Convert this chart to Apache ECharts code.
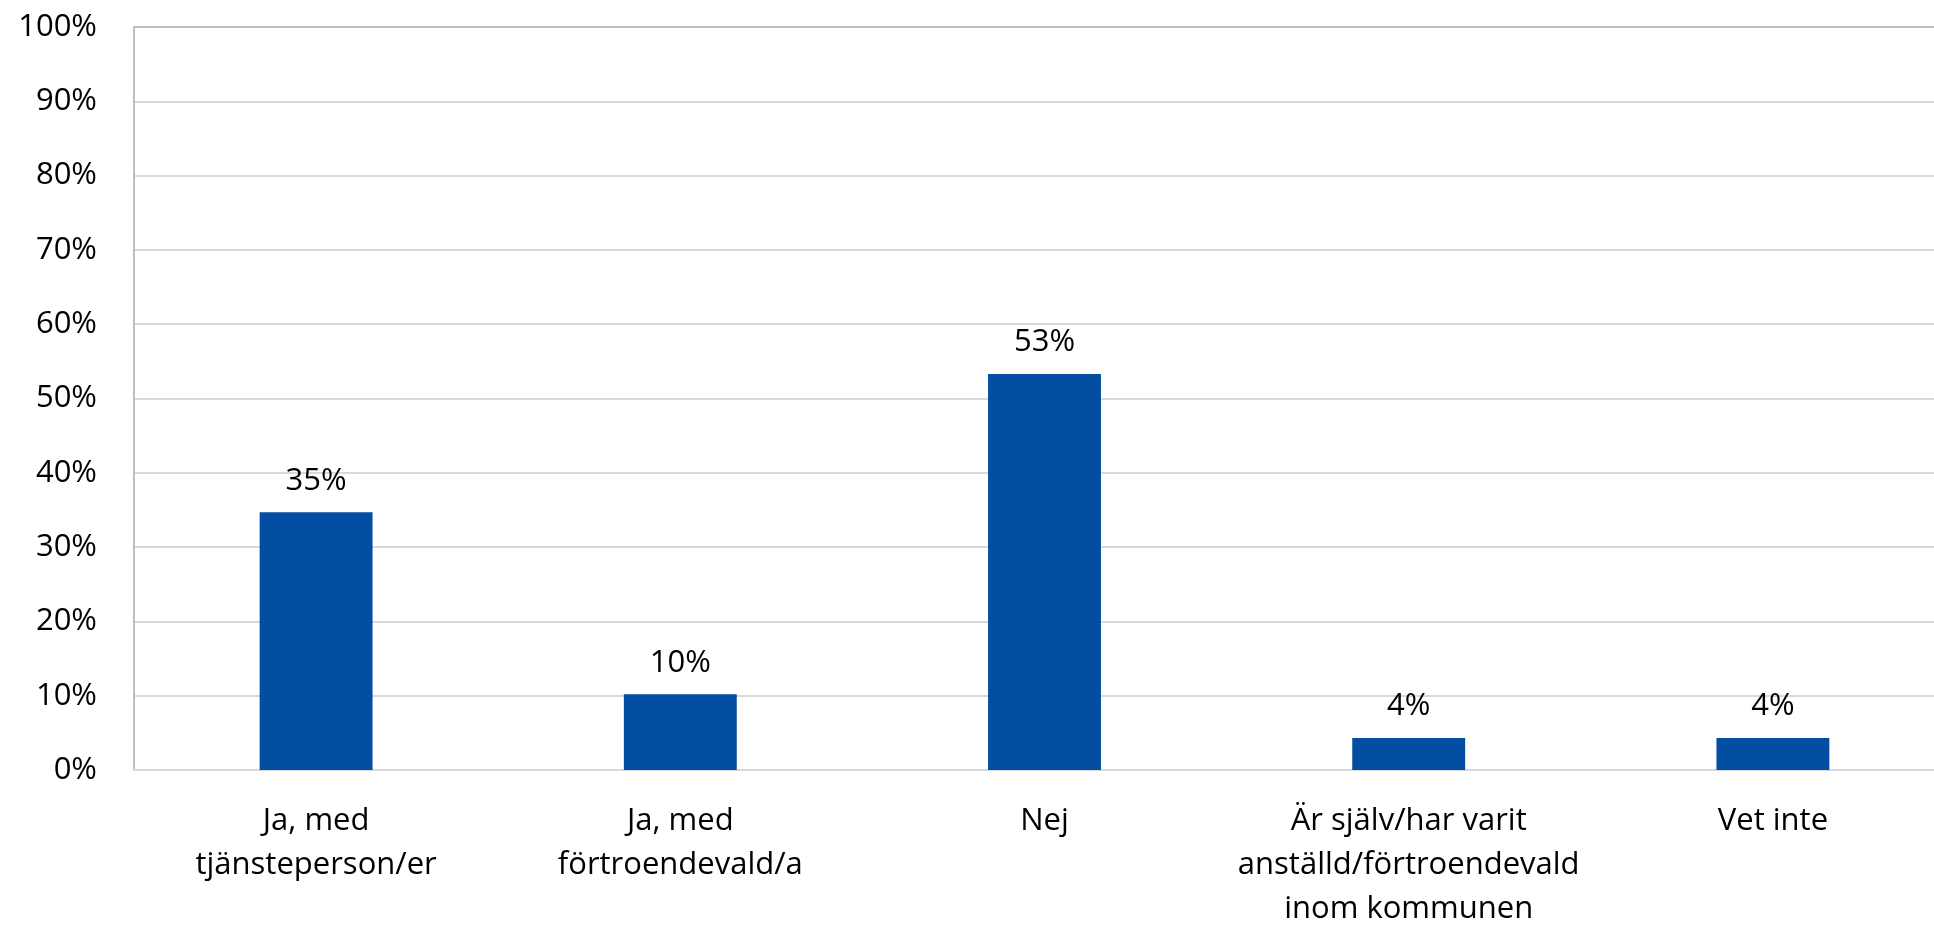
<!DOCTYPE html>
<html><head><meta charset="utf-8">
<script src="https://cdn.jsdelivr.net/npm/echarts@6/dist/echarts.min.js"></script>
<style>html,body{margin:0;padding:0;background:#fff;overflow:hidden}#wrap{width:1934px;height:925px;overflow:hidden;position:relative}#c{width:1955px;height:925px}</style>
</head><body><div id="wrap"><div id="c"></div></div>
<script>
const categories = ["Ja, med\ntjänsteperson/er", "Ja, med\nförtroendevald/a", "Nej", "Är själv/har varit\nanställd/förtroendevald\ninom kommunen", "Vet inte"];
const values = [34.7, 10.2, 53.3, 4.3, 4.3];
const yTicks = [0, 10, 20, 30, 40, 50, 60, 70, 80, 90, 100];
const gridColors = yTicks.map((t, i) => i === yTicks.length - 1 ? '#bfbfbf' : '#d9d9d9');
const chart = echarts.init(document.getElementById('c'));
chart.setOption({
  animation: false,
  grid: {left: 134, top: 27, right: 0, bottom: 155, containLabel: false, outerBoundsMode: 'none'},
  xAxis: {
    type: 'category', data: categories,
    axisLine: {show: true, lineStyle: {color: '#d9d9d9', width: 2}},
    axisTick: {show: false},
    axisLabel: {fontFamily: 'Open Sans', fontSize: 31, color: '#000', lineHeight: 44, margin: 29, interval: 0}
  },
  yAxis: {
    type: 'value', min: 0, max: 100, interval: 10,
    axisLine: {show: true, lineStyle: {color: '#bfbfbf', width: 2}},
    axisTick: {show: false},
    splitLine: {show: true, lineStyle: {color: gridColors, width: 2}},
    axisLabel: {fontFamily: 'Open Sans', fontSize: 31, color: '#000', margin: 37, formatter: v => v + '%'}
  },
  series: [{
    type: 'bar', data: values, barWidth: '31%',
    itemStyle: {color: '#034EA2'},
    label: {show: true, position: 'top', distance: 16, fontFamily: 'Open Sans', fontSize: 31, color: '#000',
      formatter: p => Math.round(p.value) + '%'}
  }]
});
</script></body></html>
